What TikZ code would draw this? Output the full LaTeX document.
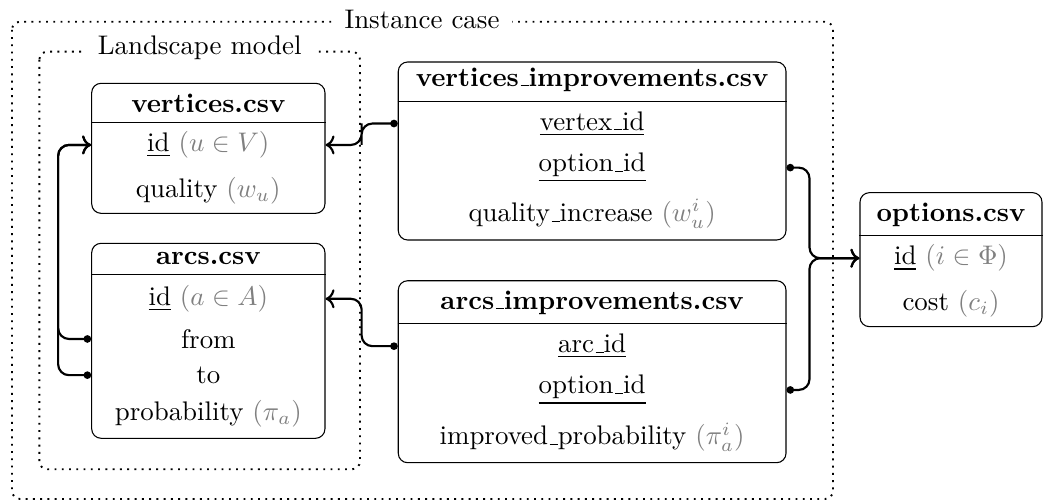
\documentclass[tikz,border=0pt]{standalone}
\usepackage{tikz}
\usetikzlibrary{calc,arrows.meta}
\def\usc{\leavevmode\kern.06em\vbox{\hrule width.3em}}
\def\headline(#1)(#2){\draw ([yshift=-#2cm]#1.north west) -- ([yshift=-#2cm]#1.north east);}
\tikzset{
	groupframe/.style={line width=0.7pt, dotted, rounded corners=3pt},
	framelabel/.style={fill=white, anchor=base, inner ysep=3pt, inner xsep=4.5pt},
	csvbox/.style={draw, rounded corners=3.5pt, inner sep=0pt},
	csvtitle/.style={anchor=base, inner sep=0pt, font=\bfseries},
	csvfield/.style={anchor=base, inner sep=0pt},
	link/.style={thick, rounded corners=4pt},
	linkarrow/.style={link, {Circle[length=2.8pt]}-{To}}
}

\begin{document}
\begin{tikzpicture}
			%%%%% START %%%%%
			\useasboundingbox (0,0) rectangle (13.628,-6.559);
			
			\draw[groupframe] (0.157,-0.284) rectangle (10.884,-6.520);
			\node[framelabel] (instance) at (5.514,-0.370) {Instance case};
			\draw[groupframe] (0.514,-0.675) rectangle (4.704,-6.132);
			\node[framelabel] (landscape) at (2.609,-0.712) {Landscape model};
			
			\node[csvbox, minimum width=3.048cm, minimum height=1.699cm] (vertices) at (2.722,-1.938) {};
			\headline(vertices)(0.515)
			\node[csvtitle] (vttitle) at (2.722,-1.476) {vertices.csv};
			\node[csvfield] (vtid) at (2.722,-1.982) {\underline{id} \textcolor{gray}{$(u \in V)$}};
			\node[csvfield] (vtq) at (2.722,-2.578) {quality \textcolor{gray}{$(w_u)$}};
			
			\node[csvbox, minimum width=3.048cm, minimum height=2.548cm] (arcs) at (2.722,-4.453) {};
			\headline(arcs)(0.414)
			\node[csvtitle] (artitle) at (2.722,-3.462) {arcs.csv};
			\node[csvfield] (arid) at (2.722,-3.992) {\underline{id} \textcolor{gray}{$(a \in A)$}};
			\node[csvfield] (arfrom) at (2.722,-4.551) {from};
			\node[csvfield] (arto) at (2.722,-5.008) {to};
			\node[csvfield] (arprob) at (2.722,-5.488) {probability \textcolor{gray}{$(\pi_a)$}};
			
			\node[csvbox, minimum width=5.066cm, minimum height=2.326cm] (vimp) at (7.737,-1.973) {};
			\headline(vimp)(0.519)
			\node[csvtitle] (vimptitle) at (7.737,-1.124) {vertices\usc improvements.csv};
			\node[csvfield] (vimpv) at (7.737,-1.699) {\underline{vertex\usc id}};
			\node[csvfield] (vimpo) at (7.737,-2.243) {\underline{option\usc id}};
			\node[csvfield] (vimpq) at (7.737,-2.897) {quality\usc increase \textcolor{gray}{$(w_u^i)$}};
			
			\node[csvbox, minimum width=5.066cm, minimum height=2.378cm] (aimp) at (7.737,-4.857) {};
			\headline(aimp)(0.566)
			\node[csvtitle] (aimptitle) at (7.737,-4.041) {arcs\usc improvements.csv};
			\node[csvfield] (aimpa) at (7.737,-4.608) {\underline{arc\usc id}};
			\node[csvfield] (aimpo) at (7.737,-5.148) {\underline{option\usc id}};
			\node[csvfield] (aimpp) at (7.737,-5.814) {improved\usc probability \textcolor{gray}{$(\pi_a^i)$}};
			
			\node[csvbox, minimum width=2.378cm, minimum height=1.751cm] (options) at (12.426,-3.393) {};
			\headline(options)(0.566)
			\node[csvtitle] (optitle) at (12.426,-2.897) {options.csv};
			\node[csvfield] (opid) at (12.426,-3.462) {\underline{id} \textcolor{gray}{$(i \in \Phi)$}};
			\node[csvfield] (opcost) at (12.426,-4.051) {cost \textcolor{gray}{$(c_i)$}};
			
			\draw[linkarrow] (vimp.west |- vimpv) -| ($(vimp.west |- vimpv)!.5!(vertices.east |- vtid)$) |- (vertices.east |- vtid);
			\draw[linkarrow] (aimp.west |- aimpa) -| ($(aimp.west |- aimpa)!.5!(arcs.east |- arid)$) |- (arcs.east |- arid);
			\draw[linkarrow] (arcs.west |- arfrom) -- ++(-0.431,0) |- (vertices.west |- vtid);
			\draw[linkarrow] (arcs.west |- arto) -- ++(-0.431,0) |- (vertices.west |- vtid);
			\draw[linkarrow] (vimp.east |- vimpo) -- ++(0.3,0) |- (options.west |- opid);
			\draw[linkarrow] (aimp.east |- aimpo) -- ++(0.3,0) |- (options.west |- opid);
			%%%%% END %%%%%
\end{tikzpicture}
\end{document}
